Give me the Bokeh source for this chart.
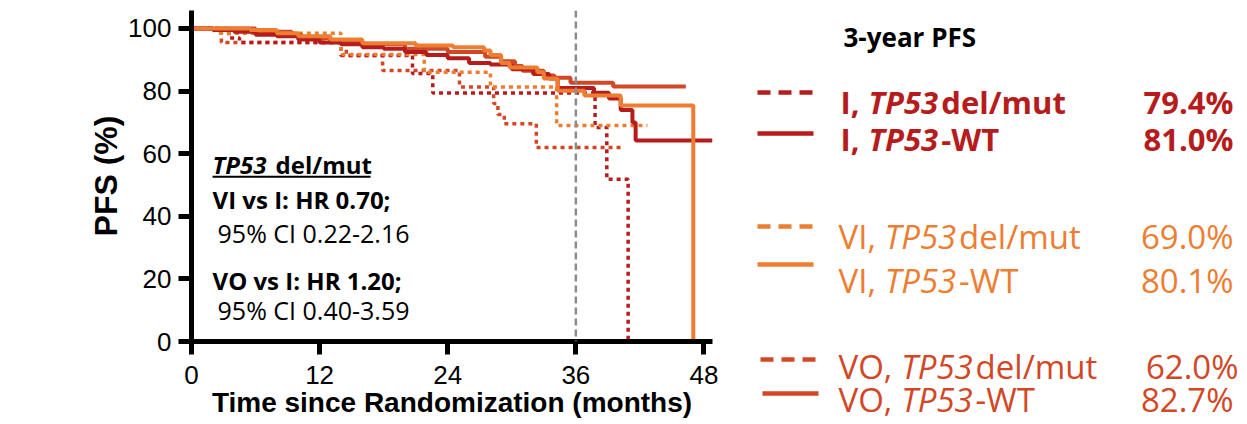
from bokeh.plotting import figure
from bokeh.models import Range1d, FixedTicker, Span
from bokeh.layouts import row
from bokeh.embed import file_html
from bokeh.resources import INLINE
from bokeh.core.properties import value

# ---------------- data ----------------
month_ticks = [0, 12, 24, 36, 48]
pfs_ticks = [0, 20, 40, 60, 80, 100]
landmark_month = 36

# Kaplan-Meier step curves (time in months, PFS in %)
i_wt_t = [0, 2, 4, 6, 8, 10, 12, 14, 16, 18, 20, 22, 24, 26, 28, 30, 32, 33.5, 34.3, 37.7, 39.1, 40.2, 41.3, 41.6, 48.8]
i_wt_s = [100, 99.5, 99, 98, 97.5, 96.5, 95.5, 95, 94, 93.5, 92.5, 91.5, 90.5, 89, 88.5, 87, 85.5, 84, 81, 79.5, 77.6, 74, 70, 64.2, 64.2]

vi_wt_t = [0, 5.5, 8, 10, 13, 16, 21, 24.5, 27.4, 28, 29, 29.8, 32.4, 33, 34.3, 36.8, 40.2, 47]
vi_wt_s = [100, 99.5, 98.5, 97.5, 96.5, 95.3, 94.6, 94, 93, 91.5, 89, 87.5, 86, 84, 80.1, 78.6, 75.4, 0]

vo_wt_t = [0, 6, 9.4, 10.3, 13, 16, 20, 24, 27.5, 29, 30.3, 31, 33, 34, 35.5, 39.5, 46.3]
vo_wt_s = [100, 99, 98, 97, 96, 95, 93.5, 92.5, 91, 89.5, 88, 86.5, 85, 84.3, 82.7, 81.5, 81.5]

i_del_t = [0, 3.5, 4.5, 14, 20.7, 22.6, 37.8, 38.9, 40.9]
i_del_s = [100, 97, 95.5, 91.4, 85.6, 79.4, 68.4, 51.8, 0]

vi_del_t = [0, 2.5, 14, 21.8, 28, 34.2, 42.7]
vi_del_s = [100, 98.5, 91.7, 86, 81.3, 69.0, 69.0]

vo_del_t = [0, 2.8, 14.5, 17.9, 25.1, 28.3, 28.7, 29.3, 32.3, 40.4]
vo_del_s = [100, 95.5, 91.4, 86.6, 81.3, 76, 72.5, 69.6, 62.0, 62.0]

# legend / annotation texts
legend_title = "3-year PFS"
legend_arms = ["I, ", "I, ", "VI, ", "VI, ", "VO, ", "VO, "]
legend_gene = ["TP53", "TP53", "TP53", "TP53", "TP53", "TP53"]
legend_suffix = ["del/mut", "-WT", "del/mut", "-WT", "del/mut", "-WT"]
pfs_3yr = ["79.4%", "81.0%", "69.0%", "80.1%", "62.0%", "82.7%"]

hr_title_gene = "TP53"
hr_title_rest = "del/mut"
hr_lines = ["VI vs I: HR 0.70;", "95% CI 0.22-2.16", "VO vs I: HR 1.20;", "95% CI 0.40-3.59"]

RED = "#B71C1C"
ORANGE = "#ED7D31"
VERM = "#D24726"
GREY = "#8C8C8C"

AX_FONT = "Liberation Sans"
TXT_FONT = value("Open Sans")

# approximate Open Sans advance widths (per 1000 em) used to chain text pieces
W_REG = {' ': 260, ',': 245, '.': 266, '-': 322, '/': 367, '%': 823, 'I': 279, 'P': 603, 'T': 556,
         'V': 617, 'W': 928, 'O': 779, 'd': 613, 'e': 561, 'l': 258, 'm': 925, 'u': 613, 't': 353}
W_BOLD = {' ': 260, ',': 293, '.': 285, '-': 322, '/': 383, '%': 903, 'I': 352, 'P': 653, 'T': 593,
          'V': 655, 'W': 955, 'O': 823, 'd': 666, 'e': 595, 'l': 305, 'm': 979, 'u': 666, 't': 414}
W_ITAL = dict(W_REG, T=532, P=577)
W_BITAL = dict(W_BOLD, T=575, P=630)


def text_w(s, table, size):
    return sum(table.get(ch, 572) for ch in s) * size / 1000.0


def no_frame_align(fig):
    if "frame_align" in fig.properties():
        fig.frame_align = False


H = 424

# ---------------- main KM plot ----------------
p = figure(width=720, height=H, x_range=Range1d(0, 48.8), y_range=Range1d(0, 105.75),
           output_backend="svg", toolbar_location=None,
           min_border_left=191, min_border_right=8, min_border_top=10, min_border_bottom=H - 341)
no_frame_align(p)
p.xgrid.visible = False
p.ygrid.visible = False
p.outline_line_color = None

for ax in (p.xaxis[0], p.yaxis[0]):
    ax.axis_line_width = 5
    ax.axis_line_color = "black"
    ax.major_tick_line_width = 5
    ax.major_tick_line_color = "black"
    ax.major_tick_out = 13
    ax.major_tick_in = 0
    ax.minor_tick_line_color = None
    ax.major_label_text_font = AX_FONT
    ax.major_label_text_font_size = "26px"
    ax.major_label_text_color = "black"
    ax.axis_label_text_font = AX_FONT
    ax.axis_label_text_font_style = "bold"
    ax.axis_label_text_color = "black"

p.xaxis.ticker = FixedTicker(ticks=month_ticks)
p.yaxis.ticker = FixedTicker(ticks=pfs_ticks)
p.xaxis.axis_label = "Time since Randomization (months)"
p.yaxis.axis_label = "PFS (%)"
p.xaxis.axis_label_text_font_size = "28px"
p.yaxis.axis_label_text_font_size = "32px"
p.xaxis.major_label_standoff = 11
p.xaxis.axis_label_standoff = 0
p.yaxis.major_label_standoff = 7
p.yaxis.axis_label_standoff = 1

p.add_layout(Span(location=landmark_month, dimension="height", line_color=GREY,
                  line_width=2.5, line_dash="7 4"))

DOT = "4 4"
for t, s, c in [(vo_del_t, vo_del_s, VERM), (i_del_t, i_del_s, RED), (vi_del_t, vi_del_s, ORANGE)]:
    p.step(x=t, y=s, mode="after", line_color=c, line_width=3.5, line_dash=DOT, line_cap="butt")
for t, s, c in [(vo_wt_t, vo_wt_s, VERM), (i_wt_t, i_wt_s, RED), (vi_wt_t, vi_wt_s, ORANGE)]:
    p.step(x=t, y=s, mode="after", line_color=c, line_width=4)

# hazard ratio annotation (text anchored at its vertical middle)
p.text(x=[1.97], y=[56.5], text=[hr_title_gene], text_font=TXT_FONT, text_font_style="bold italic",
       text_font_size="24px", text_baseline="middle", text_align="left", text_color="black")
p.text(x=[7.87], y=[56.5], text=[hr_title_rest], text_font=TXT_FONT, text_font_style="bold",
       text_font_size="24px", text_baseline="middle", text_align="left", text_color="black")
p.segment(x0=[1.97], y0=[52.6], x1=[16.77], y1=[52.6], line_color="black", line_width=2)
p.text(x=[1.97, 1.97], y=[45.3, 19.5], text=[hr_lines[0], hr_lines[2]], text_font=TXT_FONT,
       text_font_style="bold", text_font_size="24px", text_baseline="middle",
       text_align="left", text_color="black")
p.text(x=[2.44, 2.44], y=[34.6, 10.0], text=[hr_lines[1], hr_lines[3]], text_font=TXT_FONT,
       text_font_style="normal", text_font_size="25px", text_baseline="middle",
       text_align="left", text_color="black")

# ---------------- legend panel (coordinates = page pixels) ----------------
lg = figure(width=527, height=H, x_range=Range1d(720, 1247), y_range=Range1d(H, 0),
            output_backend="svg", toolbar_location=None, min_border=0,
            x_axis_location=None, y_axis_location=None)
no_frame_align(lg)
lg.xgrid.visible = False
lg.ygrid.visible = False
lg.outline_line_color = None

lg.text(x=[843], y=[36], text=[legend_title], text_font=TXT_FONT, text_font_style="bold",
        text_font_size="26px", text_baseline="middle", text_align="left", text_color="black")

colors = [RED, RED, ORANGE, ORANGE, VERM, VERM]
row_y = [101, 138, 236, 280, 366, 399]
arm_x = [840, 840, 838, 838, 838, 838]
pct_x = [1233, 1233, 1233, 1233, 1238, 1233]
bold = [True, True, False, False, False, False]
sample_y = [92, 133, 226, 264, 359, 393]
sample_x0 = [757, 757, 757, 757, 760, 762]
dashed = [True, False, True, False, True, False]

for i in range(6):
    size = 31 if bold[i] else 33
    t_arm = W_BOLD if bold[i] else W_REG
    t_gene = W_BITAL if bold[i] else W_ITAL
    style = "bold" if bold[i] else "normal"
    ital = "bold italic" if bold[i] else "italic"
    x_gene = arm_x[i] + text_w(legend_arms[i], t_arm, size)
    x_suf = x_gene + text_w(legend_gene[i], t_gene, size)
    kw = dict(text_font=TXT_FONT, text_font_size=f"{size}px", text_baseline="middle", text_color=colors[i])
    lg.text(x=[arm_x[i]], y=[row_y[i]], text=[legend_arms[i]], text_font_style=style, text_align="left", **kw)
    lg.text(x=[x_gene], y=[row_y[i]], text=[legend_gene[i]], text_font_style=ital, text_align="left", **kw)
    lg.text(x=[x_suf], y=[row_y[i]], text=[legend_suffix[i]], text_font_style=style, text_align="left", **kw)
    lg.text(x=[pct_x[i]], y=[row_y[i]], text=[pfs_3yr[i]], text_font_style=style, text_align="right", **kw)
    lg.segment(x0=[sample_x0[i]], y0=[sample_y[i]], x1=[sample_x0[i] + 56], y1=[sample_y[i]],
               line_color=colors[i], line_width=4.5, line_cap="butt",
               line_dash=("13 8" if dashed[i] else "solid"))

layout = row(p, lg, spacing=0)
open("out.html", "w").write(file_html(layout, INLINE))
